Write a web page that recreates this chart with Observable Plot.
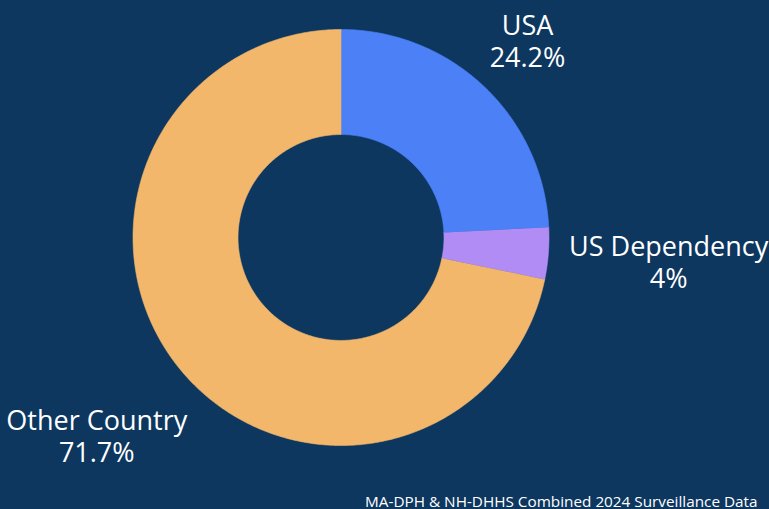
<!DOCTYPE html>
<html>
<head>
<meta charset="utf-8">
<script src="https://cdn.jsdelivr.net/npm/d3@7"></script>
<script src="https://cdn.jsdelivr.net/npm/@observablehq/plot@0.6"></script>
<style>
  html, body { margin: 0; padding: 0; background: #0d375f; }
  #chart svg { display: block; }
</style>
</head>
<body>
<div id="chart"></div>
<script>
// Data
const categories = ["USA", "US Dependency", "Other Country"];
const values = [24.2, 4, 71.7];
const colors = ["#4b80f6", "#b08cf4", "#f3b76b"];
const caption = "MA-DPH & NH-DHHS Combined 2024 Surveillance Data";

// Layout (geometry derived from the data)
const innerRatio = 0.495;
const labelRadius = {"USA": 1.30, "US Dependency": 1.58, "Other Country": 1.515};
const total = d3.sum(values);
let acc = 0;
const slices = categories.map((name, i) => {
  const a0 = acc / total * 2 * Math.PI;
  acc += values[i];
  const a1 = acc / total * 2 * Math.PI;
  return {name, value: values[i], a0, a1};
});
const arcPoints = [];
for (const s of slices) {
  const n = Math.max(8, Math.ceil((s.a1 - s.a0) / 0.01));
  for (let k = 0; k <= n; k++) {
    const t = s.a0 + (s.a1 - s.a0) * k / n;
    arcPoints.push({name: s.name, x: Math.sin(t), y: Math.cos(t)});
  }
  for (let k = n; k >= 0; k--) {
    const t = s.a0 + (s.a1 - s.a0) * k / n;
    arcPoints.push({name: s.name, x: innerRatio * Math.sin(t), y: innerRatio * Math.cos(t)});
  }
}
const labels = slices.map(s => {
  const m = (s.a0 + s.a1) / 2;
  const r = labelRadius[s.name];
  return {name: s.name, pct: `${s.value}%`, x: r * Math.sin(m), y: r * Math.cos(m)};
});

const chart = Plot.plot({
  width: 769,
  height: 509,
  margin: 0,
  style: {background: "#0d375f", fontFamily: "'Open Sans', sans-serif", overflow: "visible"},
  x: {domain: [-1, 1], range: [132.5, 548.5], axis: null},
  y: {domain: [-1, 1], range: [445, 29], axis: null},
  color: {domain: categories, range: colors},
  marks: [
    Plot.line(arcPoints, {x: "x", y: "y", z: "name", fill: "name", stroke: "name", strokeWidth: 0.6, curve: "linear"}),
    Plot.text(labels, {x: "x", y: "y", text: "name", fill: "white", fontSize: 27, textAnchor: "middle", lineAnchor: "middle", dy: -15}),
    Plot.text(labels, {x: "x", y: "y", text: "pct", fill: "white", fontSize: 27, textAnchor: "middle", lineAnchor: "middle", dy: 17}),
    Plot.text([caption], {frameAnchor: "bottom-right", dx: -12, dy: -3, fill: "white", fontSize: 15.3})
  ]
});
document.getElementById("chart").appendChild(chart);
</script>
</body>
</html>
